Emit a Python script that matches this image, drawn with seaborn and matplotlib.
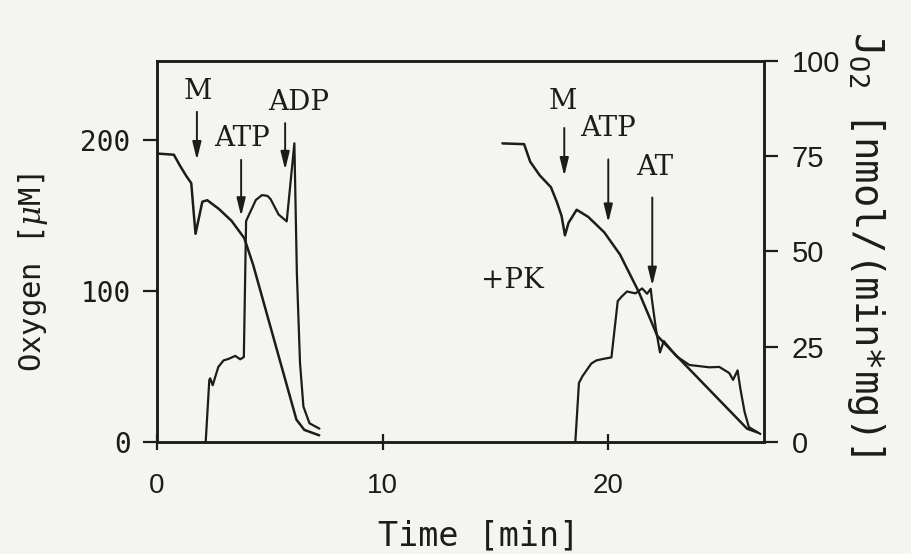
import matplotlib
matplotlib.use('Agg')
import matplotlib.pyplot as plt
import seaborn as sns

# --- values ---
# left recording: oxygen concentration [uM] vs time [min]
t_o2_a = [0.09, 0.75, 1.03, 1.31, 1.52, 1.63, 1.71, 2.01, 2.23, 2.74, 3.31,
          3.87, 4.26, 6.18, 6.53, 7.19]
o2_a = [190.7, 190.0, 182.5, 175.7, 171.2, 151.4, 137.7, 158.9, 159.9, 154.2,
        146.2, 134.8, 117.3, 14.8, 8.0, 4.4]
# left recording: oxygen flux J_O2 [nmol/(min*mg)]
t_j_a = [2.16, 2.32, 2.36, 2.47, 2.72, 2.95, 3.17, 3.47, 3.69, 3.85, 3.95,
         4.38, 4.65, 4.90, 5.04, 5.39, 5.75, 6.09, 6.20, 6.34, 6.49, 6.76, 7.20]
j_a = [0.0, 16.3, 16.7, 14.9, 19.7, 21.4, 21.8, 22.6, 21.7, 22.3, 58.0,
       63.5, 64.8, 64.6, 63.7, 59.7, 57.9, 78.4, 44.3, 20.7, 9.3, 4.9, 3.5]

# right recording (+PK): oxygen concentration
t_o2_b = [15.31, 16.27, 16.54, 16.96, 17.46, 17.73, 17.93, 18.08, 18.24, 18.60,
          19.11, 19.82, 20.52, 21.35, 22.17, 22.46, 24.30, 26.15, 26.60]
o2_b = [197.5, 197.0, 185.4, 176.4, 168.5, 158.4, 149.5, 136.7, 145.0, 153.6,
        148.9, 138.7, 124.0, 99.3, 70.3, 65.7, 37.3, 8.8, 6.4]
# right recording (+PK): oxygen flux
t_j_b = [18.54, 18.70, 18.86, 19.25, 19.47, 19.77, 20.14, 20.42, 20.60, 20.83,
         21.20, 21.50, 21.72, 21.88, 21.93, 22.11, 22.29, 22.46, 23.02, 23.60,
         24.48, 24.92, 25.36, 25.53, 25.73, 25.85, 26.04, 26.23, 26.74]
j_b = [0.0, 15.5, 17.3, 20.6, 21.4, 21.8, 22.2, 37.0, 38.2, 39.5,
       39.0, 40.3, 38.9, 40.2, 37.6, 29.7, 23.5, 26.5, 22.5, 20.2,
       19.6, 19.7, 18.1, 16.3, 18.8, 14.1, 7.9, 3.9, 2.1]

x_ticks = [0, 10, 20]
o2_ticks = [0, 100, 200]
j_ticks = [0, 25, 50, 75, 100]

# additions marked with arrows
add_labels = ['M', 'ATP', 'ADP', 'M', 'ATP', 'AT']
add_arrow_t = [1.77, 3.73, 5.68, 18.05, 20.0, 21.95]
add_arrow_from = [218.4, 186.6, 210.9, 207.7, 186.9, 161.7]
add_arrow_to = [186.5, 149.3, 180.0, 175.9, 145.2, 103.4]
add_text_t = [1.81, 3.77, 6.26, 18.0, 19.98, 22.06]
add_text_y = [231.5, 200.9, 224.5, 225.0, 207.4, 181.4]

ink = '#1c1c1c'
paper = '#f4f4f0'
label_font = 'DejaVu Sans Mono'

sns.set_theme(style='ticks')
plt.rcParams['font.family'] = ['DejaVu Serif']
plt.rcParams['mathtext.fontset'] = 'custom'
plt.rcParams['mathtext.rm'] = label_font
plt.rcParams['mathtext.it'] = 'DejaVu Serif:italic'

fig = plt.figure(figsize=(9.12, 5.54), dpi=100)
fig.patch.set_facecolor(paper)
ax = fig.add_axes([0.1721, 0.2022, 0.6656, 0.6877])
ax.set_facecolor(paper)
ax2 = ax.twinx()
ax2.patch.set_visible(False)

sns.lineplot(x=t_o2_a, y=o2_a, ax=ax, sort=False, estimator=None, color=ink, lw=1.8)
sns.lineplot(x=t_o2_b, y=o2_b, ax=ax, sort=False, estimator=None, color=ink, lw=1.8)
sns.lineplot(x=t_j_a, y=j_a, ax=ax2, sort=False, estimator=None, color=ink, lw=1.6)
sns.lineplot(x=t_j_b, y=j_b, ax=ax2, sort=False, estimator=None, color=ink, lw=1.6)

ax.set_xlim(0, 26.9)
ax.set_ylim(0, 252)
ax2.set_ylim(0, 100)
ax.set_xticks(x_ticks)
ax.set_yticks(o2_ticks)
ax2.set_yticks(j_ticks)

for a in (ax, ax2):
    for sp in a.spines.values():
        sp.set_visible(True)
        sp.set_color(ink)
        sp.set_linewidth(1.8)

ax.tick_params(axis='y', direction='out', length=10, width=1.6, pad=9,
               labelsize=20, color=ink, labelcolor=ink, right=False)
ax.tick_params(axis='x', direction='inout', length=12, width=1.6, pad=16,
               labelsize=20, color=ink, labelcolor=ink)
ax2.tick_params(axis='y', direction='out', length=10, width=1.6, pad=10,
                labelsize=21, color=ink, labelcolor=ink)
for lab in ax.get_yticklabels():
    lab.set_fontfamily(label_font)
for lab in ax.get_xticklabels() + ax2.get_yticklabels():
    lab.set_fontfamily('Liberation Sans')

ax.set_xlabel('Time [min]', family=label_font, fontsize=24, color=ink,
              va='center')
ax.xaxis.set_label_coords(0.53, -0.247)
ax.set_ylabel('Oxygen [$\\mu$M]', family=label_font, fontsize=22, color=ink,
              va='center')
ax.yaxis.set_label_coords(-0.204, 0.444)
ax2.set_ylabel('J$_{\\rm O2}$ [nmol/(min*mg)]', family=label_font, fontsize=28,
               color=ink, rotation=270, va='center', ha='center')
ax2.yaxis.set_label_coords(1.168, 0.52)

for lab, at, y0, y1, tt, ty in zip(add_labels, add_arrow_t, add_arrow_from,
                                   add_arrow_to, add_text_t, add_text_y):
    ax.annotate('', xy=(at, y1), xytext=(at, y0),
                arrowprops=dict(arrowstyle='-|>,head_length=0.9,head_width=0.22',
                                mutation_scale=12, lw=1.4, color=ink,
                                shrinkA=0, shrinkB=0))
    ax.text(tt, ty, lab, ha='center', va='center', fontsize=20, color=ink)
ax.text(15.75, 106.7, '+PK', ha='center', va='center', fontsize=20, color=ink)

fig.savefig('out.png', dpi=100, facecolor=paper)
